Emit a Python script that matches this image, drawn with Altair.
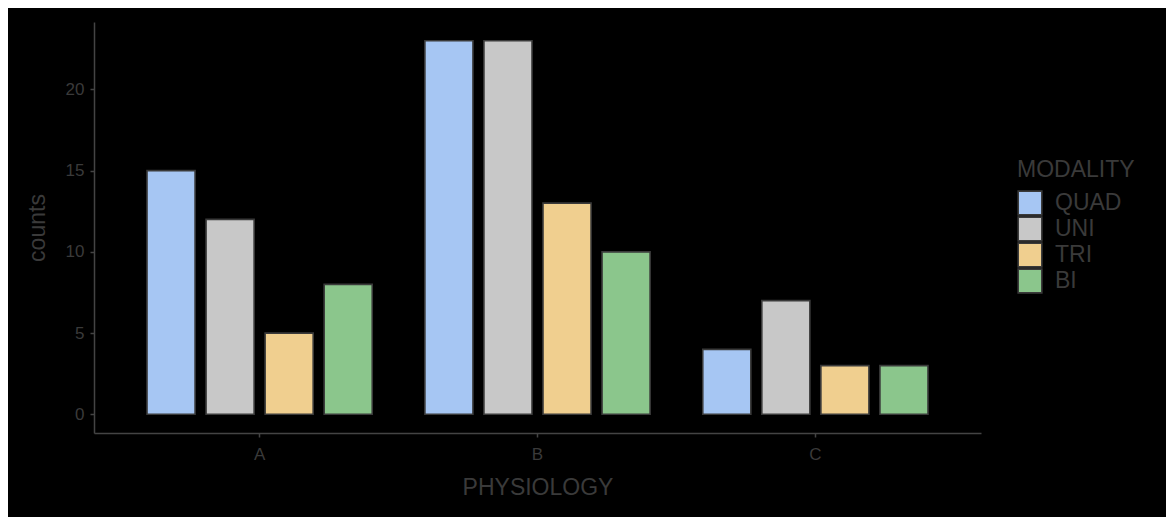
import altair as alt
import pandas as pd

physiology = ["A", "A", "A", "A", "B", "B", "B", "B", "C", "C", "C", "C"]
modality = ["QUAD", "UNI", "TRI", "BI"] * 3
counts = [15, 12, 5, 8, 23, 23, 13, 10, 4, 7, 3, 3]

mod_order = ["QUAD", "UNI", "TRI", "BI"]
mod_colors = ["#A6C6F3", "#C8C8C8", "#F0CF8F", "#8BC68C"]

df = pd.DataFrame({"PHYSIOLOGY": physiology, "MODALITY": modality, "counts": counts})

FONT = "Liberation Sans"
TXT = "#3a3a3a"
LINE = "#444444"

chart = alt.Chart(df).mark_bar(stroke="#3a3a3a", strokeWidth=1.6).encode(
    x=alt.X("PHYSIOLOGY:N",
            scale=alt.Scale(paddingInner=0.15, paddingOuter=0.171),
            axis=alt.Axis(labelAngle=0, title="PHYSIOLOGY", titleFontSize=23,
                          titleFontWeight="normal", titleColor=TXT, titlePadding=14,
                          labelFontSize=17, labelColor=TXT, labelPadding=9,
                          tickSize=4, tickColor=LINE, domainColor=LINE,
                          domainWidth=1.5, tickWidth=1.5, titleFont=FONT, labelFont=FONT)),
    xOffset=alt.XOffset("MODALITY:N", sort=mod_order,
                        scale=alt.Scale(paddingInner=0.186, paddingOuter=0.093)),
    y=alt.Y("counts:Q",
            scale=alt.Scale(domain=[-1.15, 24.15], nice=False, zero=False),
            axis=alt.Axis(values=[0, 5, 10, 15, 20], title="counts", titleFontSize=23,
                          titleFontWeight="normal", titleColor=TXT, titlePadding=16,
                          labelFontSize=17, labelColor=TXT, labelPadding=6,
                          tickSize=4, tickColor=LINE, domainColor=LINE, grid=False,
                          domainWidth=1.5, tickWidth=1.5, titleFont=FONT, labelFont=FONT)),
    y2=alt.datum(0),
    color=alt.Color("MODALITY:N", sort=mod_order,
                    scale=alt.Scale(domain=mod_order, range=mod_colors),
                    legend=alt.Legend(title="MODALITY", titleFontSize=23,
                                      titleFontWeight="normal", titleColor=TXT,
                                      labelFontSize=23, labelColor=TXT,
                                      symbolType="square", symbolSize=560,
                                      symbolStrokeColor="#3a3a3a", symbolStrokeWidth=1.6,
                                      symbolOpacity=1, orient="none",
                                      legendX=923, legendY=137,
                                      rowPadding=0, clipHeight=26,
                                      titlePadding=8, labelOffset=12,
                                      titleFont=FONT, labelFont=FONT)),
).properties(
    width=887, height=411,
    background="black",
    padding={"left": 86, "top": 14, "right": 185, "bottom": 84},
    autosize=alt.AutoSizeParams(type="none"),
).configure_view(stroke=None)

chart.save("out.html", embed_options={"renderer": "svg", "actions": False})
